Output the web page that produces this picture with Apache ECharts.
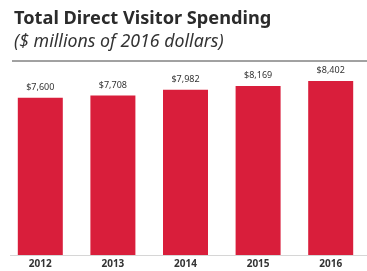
<!DOCTYPE html>
<html><head><meta charset="utf-8">
<script src="https://cdn.jsdelivr.net/npm/echarts@6/dist/echarts.min.js"></script>
<style>html,body{margin:0;padding:0;background:#fff}#c{width:367px;height:271px}</style>
</head><body><div id="c"></div>
<script>
var categories = ['2012','2013','2014','2015','2016'];
var spending = [7600, 7708, 7982, 8169, 8402];
var valueLabels = ['$7,600','$7,708','$7,982','$8,169','$8,402'];

var chart = echarts.init(document.getElementById('c'), null, {renderer:'canvas'});
chart.setOption({
  animation:false,
  backgroundColor:'#fff',
  title:{
    text:'Total Direct Visitor Spending',
    subtext:'($ millions of 2016 dollars)',
    left:9, top:3, itemGap:1,
    textStyle:{fontFamily:'Noto Sans', fontWeight:'bold', fontSize:18.2, color:'#2b2b2b', lineHeight:22},
    subtextStyle:{fontFamily:'Noto Sans', fontStyle:'italic', fontSize:17.8, color:'#333', lineHeight:22}
  },
  grid:{left:4, right:-4, top:68.7, bottom:16, containLabel:false},
  xAxis:{type:'category', data:categories,
    axisLine:{show:false}, axisTick:{show:false},
    axisLabel:{fontFamily:'Noto Sans', fontSize:10, fontWeight:'bold', color:'#333', margin:4}},
  yAxis:{type:'value', min:0, max:9000, show:false, splitLine:{show:false}},
  series:[{type:'bar', data:spending, barWidth:45, itemStyle:{color:'#D91E3B'},
    label:{show:true, position:'top', distance:6, fontFamily:'Noto Sans', fontSize:9, color:'#333',
      formatter:function(p){return valueLabels[p.dataIndex];}}}],
  graphic:[
    {type:'line', shape:{x1:12,y1:61,x2:367,y2:61}, style:{stroke:'#444', lineWidth:1}},
    {type:'line', shape:{x1:10,y1:255.5,x2:367,y2:255.5}, style:{stroke:'#d6d6d6', lineWidth:1}}
  ]
});
</script></body></html>
